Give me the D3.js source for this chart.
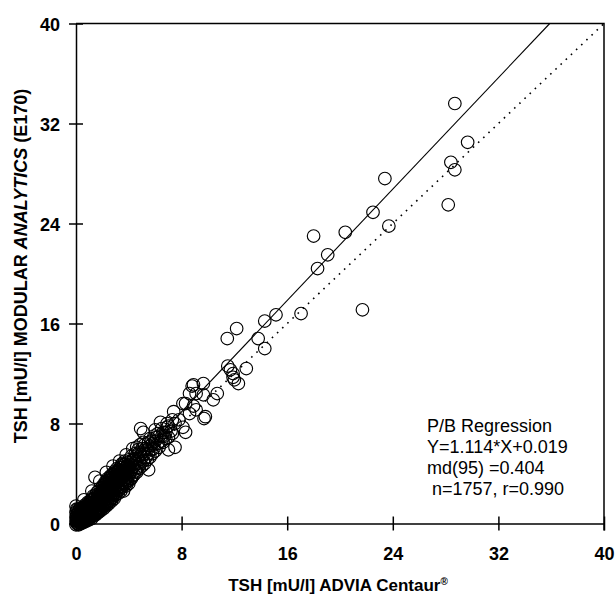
<!doctype html>
<html lang="en">
<head>
  <meta charset="utf-8">
  <style>
    body { margin: 0; background: #fff; }
    svg { font-family: "Liberation Sans", Arial, sans-serif; }
    .axis text { font-size: 18px; font-weight: bold; fill: #000; }
    .axis path, .axis line { stroke: #000; stroke-width: 1.5; }
    .dot { fill: none; stroke: #000; stroke-width: 1.15; }
  </style>
  <script src="https://d3js.org/d3.v7.min.js"></script>
</head>
<body>
<svg width="616" height="596"></svg>
<script>
  // tick values, both axes
  const ticks = [0, 8, 16, 24, 32, 40];

  // regression result printed on the chart
  const slope = 1.114;
  const intercept = 0.019;
  const statLines = ["P/B Regression", "Y=1.114*X+0.019", "md(95) =0.404", " n=1757, r=0.990"];

  // dense cluster of low values [ADVIA, MODULAR]
  const lowPoints = [
    [0,-0.1],[0,0.2],[0,0.5],[0,0.9],[0,1.4],
    [0.1,0],[0.1,0.3],[0.1,0.7],[0.1,1.1],
    [0.2,-0.1],[0.2,0.25],[0.2,0.6],[0.2,1.0],
    [0.3,0.1],[0.3,0.4],[0.3,0.8],[0.3,1.2],
    [0.4,0],[0.4,0.35],[0.4,0.7],[0.4,1.05],
    [0.5,0.15],[0.5,0.5],[0.5,0.9],[0.5,1.3],
    [0.6,0.1],[0.6,0.45],[0.6,0.8],[0.6,1.2],[0.6,1.9],
    [0.7,0.3],[0.7,0.65],[0.7,1.0],[0.7,1.5],
    [0.8,0.2],[0.8,0.55],[0.8,0.95],[0.8,1.35],
    [0.9,0.4],[0.9,0.8],[0.9,1.2],[0.9,1.7],
    [1.0,0.3],[1.0,0.7],[1.0,1.1],[1.0,1.6],
    [1.1,0.5],[1.1,0.95],[1.1,1.4],[1.1,1.85],
    [1.2,0.4],[1.2,0.85],[1.2,1.3],[1.2,1.9],[1.2,2.6],
    [1.3,0.6],[1.3,1.1],[1.3,1.5],[1.3,2.2],
    [1.4,0.8],[1.4,1.3],[1.4,1.8],[1.44,3.7],
    [1.5,0.7],[1.5,1.2],[1.5,1.65],[1.5,2.3],
    [1.6,0.9],[1.6,1.45],[1.6,1.95],[1.6,2.5],
    [1.7,1.0],[1.7,1.5],[1.7,2.0],[1.7,2.6],
    [1.8,1.2],[1.8,1.75],[1.8,2.3],[1.8,3.4],
    [1.9,1.1],[1.9,1.6],[1.9,2.15],[1.9,2.8],
    [2.0,1.4],[2.0,1.95],[2.0,2.5],[2.0,3.0],
    [2.1,1.2],[2.1,1.8],[2.1,2.35],[2.1,2.9],
    [2.2,1.5],[2.2,2.2],[2.2,2.75],[2.2,3.3],
    [2.3,1.4],[2.3,2.0],[2.3,2.6],[2.3,3.2],[2.3,4.1],
    [2.4,1.7],[2.4,2.4],[2.4,3.0],[2.4,3.6],
    [2.5,1.6],[2.5,2.3],[2.5,2.85],[2.5,3.5],
    [2.6,1.9],[2.6,2.6],[2.6,3.2],[2.6,3.8],
    [2.7,1.8],[2.7,2.5],[2.7,3.05],[2.7,3.7],
    [2.8,2.1],[2.8,2.8],[2.8,3.4],[2.8,4.0],[2.8,4.6],
    [2.9,2.0],[2.9,2.7],[2.9,3.3],[2.9,3.9],
    [3.0,2.3],[3.0,3.0],[3.0,3.6],[3.0,4.1],
    [3.1,2.5],[3.1,3.25],[3.1,3.8],[3.1,4.4],
    [3.2,2.4],[3.2,3.1],[3.2,3.7],[3.2,4.3],
    [3.3,2.7],[3.3,3.45],[3.3,4.0],[3.3,5.0],
    [3.4,2.6],[3.4,3.3],[3.4,3.9],[3.4,4.5],
    [3.5,2.9],[3.5,3.65],[3.5,4.2],[3.5,4.8],
    [3.6,2.6],[3.6,3.5],[3.6,4.1],[3.6,4.7],
    [3.7,3.1],[3.7,3.85],[3.7,4.4],[3.7,5.0],
    [3.8,3.0],[3.8,3.7],[3.8,4.3],[3.8,5.5],
    [3.9,3.3],[3.9,4.05],[3.9,4.6],
    [4.0,3.2],[4.0,3.9],[4.0,4.5],[4.0,5.1]
  ];

  // more low values lying between the ones above
  const lowPoints2 = [
    [0.05,0.05],[0.05,0.4],[0.05,0.75],[0.05,1.15],
    [0.15,-0.05],[0.15,0.15],[0.15,0.5],[0.15,0.85],
    [0.25,0.05],[0.25,0.3],[0.25,0.7],[0.25,1.1],
    [0.35,0.2],[0.35,0.55],[0.35,0.95],
    [0.45,0.1],[0.45,0.45],[0.45,0.8],[0.45,1.2],
    [0.55,0.3],[0.55,0.65],[0.55,1.05],
    [0.65,0.2],[0.65,0.55],[0.65,0.9],[0.65,1.3],
    [0.75,0.45],[0.75,0.8],[0.75,1.2],
    [0.85,0.35],[0.85,0.7],[0.85,1.05],[0.85,1.5],
    [0.95,0.55],[0.95,0.95],[0.95,1.35],
    [1.05,0.45],[1.05,0.85],[1.05,1.25],[1.05,1.7],
    [1.15,0.7],[1.15,1.1],[1.15,1.6],
    [1.25,0.6],[1.25,1.0],[1.25,1.45],[1.25,2.0],
    [1.35,0.85],[1.35,1.3],[1.35,1.75],
    [1.45,0.75],[1.45,1.05],[1.45,1.5],[1.45,2.1],
    [1.55,1.0],[1.55,1.4],[1.55,1.85],
    [1.65,0.85],[1.65,1.25],[1.65,1.75],[1.65,2.3],
    [1.75,1.1],[1.75,1.6],[1.75,2.15],
    [1.85,1.0],[1.85,1.45],[1.85,1.95],[1.85,2.5],
    [1.95,1.25],[1.95,1.8],[1.95,2.35],
    [2.05,1.6],[2.05,2.1],[2.05,2.7],
    [2.15,1.4],[2.15,2.0],[2.15,2.55],[2.15,3.1],
    [2.25,1.75],[2.25,2.4],[2.25,2.95],
    [2.35,1.6],[2.35,2.2],[2.35,2.8],[2.35,3.4],
    [2.45,2.0],[2.45,2.6],[2.45,3.2],
    [2.55,1.8],[2.55,2.45],[2.55,3.05],[2.55,3.65],
    [2.65,2.2],[2.65,2.85],[2.65,3.45],
    [2.75,2.05],[2.75,2.65],[2.75,3.25],[2.75,3.9],
    [2.85,2.45],[2.85,3.1],[2.85,3.7],
    [2.95,2.25],[2.95,2.9],[2.95,3.5],[2.95,4.2],
    [3.05,2.65],[3.05,3.3],[3.05,3.9],
    [3.15,2.8],[3.15,3.5],[3.15,4.1],
    [3.25,2.9],[3.25,3.6],[3.25,4.2],
    [3.35,3.1],[3.35,3.75],[3.35,4.3],
    [3.45,3.0],[3.45,3.6],[3.45,4.2],[3.45,4.7],
    [3.55,3.3],[3.55,3.95],[3.55,4.5],
    [3.65,3.2],[3.65,3.8],[3.65,4.4],
    [3.75,3.5],[3.75,4.1],[3.75,4.75],
    [3.85,3.4],[3.85,4.0],[3.85,4.6],
    [3.95,3.7],[3.95,4.35],[3.95,4.9],
    [4.1,3.5],[4.1,4.1],[4.1,4.7],
    [4.3,3.8],[4.3,4.5],[4.3,5.1],
    [4.5,4.2],[4.5,4.9],[4.5,5.6],
    [4.7,4.5],[4.7,5.2],[4.7,5.9],
    [4.9,4.8],[4.9,5.5],
    [5.1,5.0],[5.1,5.8],[5.1,6.5],
    [5.3,5.3],[5.3,6.0],
    [5.5,5.6],[5.5,6.5],
    [5.7,5.9],[5.7,6.6],
    [5.9,6.0],[5.9,7.0],
    [6.2,6.4],[6.2,7.2],
    [6.5,7.0],[6.5,7.6],
    [6.8,7.3],[6.8,6.8]
  ];

  // medium values
  const midPoints = [
    [4.2,3.6],[4.2,4.3],[4.2,4.9],[4.2,5.4],
    [4.3,6.0],[4.4,3.9],[4.4,4.6],[4.4,5.2],
    [4.6,4.1],[4.6,4.8],[4.6,5.5],[4.6,6.1],
    [4.8,4.4],[4.8,5.1],[4.8,5.7],[4.85,6.3],[4.9,7.6],
    [5.0,4.6],[5.0,5.3],[5.0,6.0],
    [5.1,7.3],[5.2,4.8],[5.2,5.6],[5.2,6.3],
    [5.4,5.1],[5.4,5.9],[5.5,4.3],[5.6,5.3],[5.6,6.2],[5.6,6.8],
    [5.8,5.6],[5.8,6.4],[5.9,6.3],[6.0,5.8],[6.0,6.6],[6.0,7.5],
    [6.1,6.9],[6.3,6.1],[6.3,7.0],[6.4,8.1],[6.5,6.6],[6.6,6.5],[6.6,7.3],
    [6.7,7.0],[6.9,7.7],[6.9,8.0],[7.0,5.9],[7.0,6.9],[7.0,7.8],
    [7.2,7.4],[7.3,7.2],[7.3,8.3],[7.4,8.95],[7.5,6.1],[7.5,8.0],
    [7.8,8.3],[8.1,7.7],[8.1,9.6],[8.3,7.3],[8.3,9.6],[8.6,8.8],[8.6,10.4],
    [8.9,9.4],[8.9,11.1],[8.8,11.0],[9.1,9.1],[9.1,10.4],[9.65,10.3],[9.65,11.2],
    [9.7,8.4],[9.8,8.55],[10.4,9.9],[10.7,10.4]
  ];

  // high values
  const highPoints = [
    [11.5,12.6],[11.9,12.0],[11.7,12.3],[11.9,11.7],[12.0,11.5],[12.3,11.2],[12.9,12.4],
    [11.46,14.8],[12.17,15.6],[13.8,14.8],[14.3,14.0],[14.3,16.2],[15.15,16.7],[17.05,16.8],
    [21.7,17.1],[18.3,20.4],[19.07,21.5],[18.0,23.0],[20.4,23.3],[22.5,24.9],[23.7,23.8],
    [23.4,27.6],[28.2,25.5],[28.4,28.9],[28.7,28.3],[29.67,30.5],[28.7,33.6]
  ];

  const allPoints = lowPoints.concat(lowPoints2, midPoints, highPoints);

  const svg = d3.select("svg");

  const x = d3.scaleLinear().domain([0, 40]).range([76, 604]);
  const y = d3.scaleLinear().domain([0, 40]).range([523.5, 23.5]);

  // points
  svg.append("g")
    .selectAll("circle")
    .data(allPoints)
    .enter()
    .append("circle")
    .attr("class", "dot")
    .attr("cx", d => x(d[0]))
    .attr("cy", d => y(d[1]))
    .attr("r", 6.3);

  // identity line (dotted)
  svg.append("line")
    .attr("x1", x(0)).attr("y1", y(0))
    .attr("x2", x(40)).attr("y2", y(40))
    .attr("stroke", "#000")
    .attr("stroke-width", 1.6)
    .attr("stroke-dasharray", "1.6,5.5");

  // regression line
  const xEnd = (40 - intercept) / slope;
  svg.append("line")
    .attr("x1", x(0)).attr("y1", y(intercept))
    .attr("x2", x(xEnd)).attr("y2", y(40))
    .attr("stroke", "#000")
    .attr("stroke-width", 1.1);

  // axes
  const xAxis = svg.append("g")
    .attr("class", "axis")
    .attr("transform", `translate(0,${y(0)})`)
    .call(d3.axisBottom(x).tickValues(ticks).tickSizeOuter(0));
  xAxis.selectAll(".tick line").attr("y1", -7).attr("y2", 7);
  xAxis.selectAll(".tick text").attr("y", 36.5).attr("dy", 0);

  const yAxis = svg.append("g")
    .attr("class", "axis")
    .attr("transform", `translate(${x(0)},0)`)
    .call(d3.axisLeft(y).tickValues(ticks).tickSizeOuter(0));
  yAxis.selectAll(".tick line").attr("x1", -7).attr("x2", 7);
  yAxis.selectAll(".tick text").attr("x", -16).attr("dy", 6.5);

  // frame top and right
  svg.append("path")
    .attr("d", `M${x(0)},${y(40)}H${x(40)}V${y(0) + 7}`)
    .attr("fill", "none")
    .attr("stroke", "#000")
    .attr("stroke-width", 1.5);

  // axis titles
  const xTitle = svg.append("text")
    .attr("x", 338)
    .attr("y", 591)
    .attr("text-anchor", "middle")
    .style("font-size", "17px")
    .style("font-weight", "bold");
  xTitle.append("tspan").text("TSH [mU/l] ADVIA Centaur");
  xTitle.append("tspan").attr("dy", -6).style("font-size", "10px").text("®");

  const yTitle = svg.append("text")
    .attr("transform", "translate(27,266) rotate(-90)")
    .attr("text-anchor", "middle")
    .style("font-size", "18px")
    .style("font-weight", "bold");
  yTitle.append("tspan").text("TSH [mU/l] MODULAR ");
  yTitle.append("tspan").style("font-style", "italic").text("ANALYTICS");
  yTitle.append("tspan").text(" (E170)");

  // statistics block
  svg.append("g")
    .selectAll("text")
    .data(statLines)
    .enter()
    .append("text")
    .attr("x", 427)
    .attr("y", (d, i) => 432 + i * 21)
    .attr("xml:space", "preserve")
    .style("font-size", "18px")
    .text(d => d);
</script>
</body>
</html>
